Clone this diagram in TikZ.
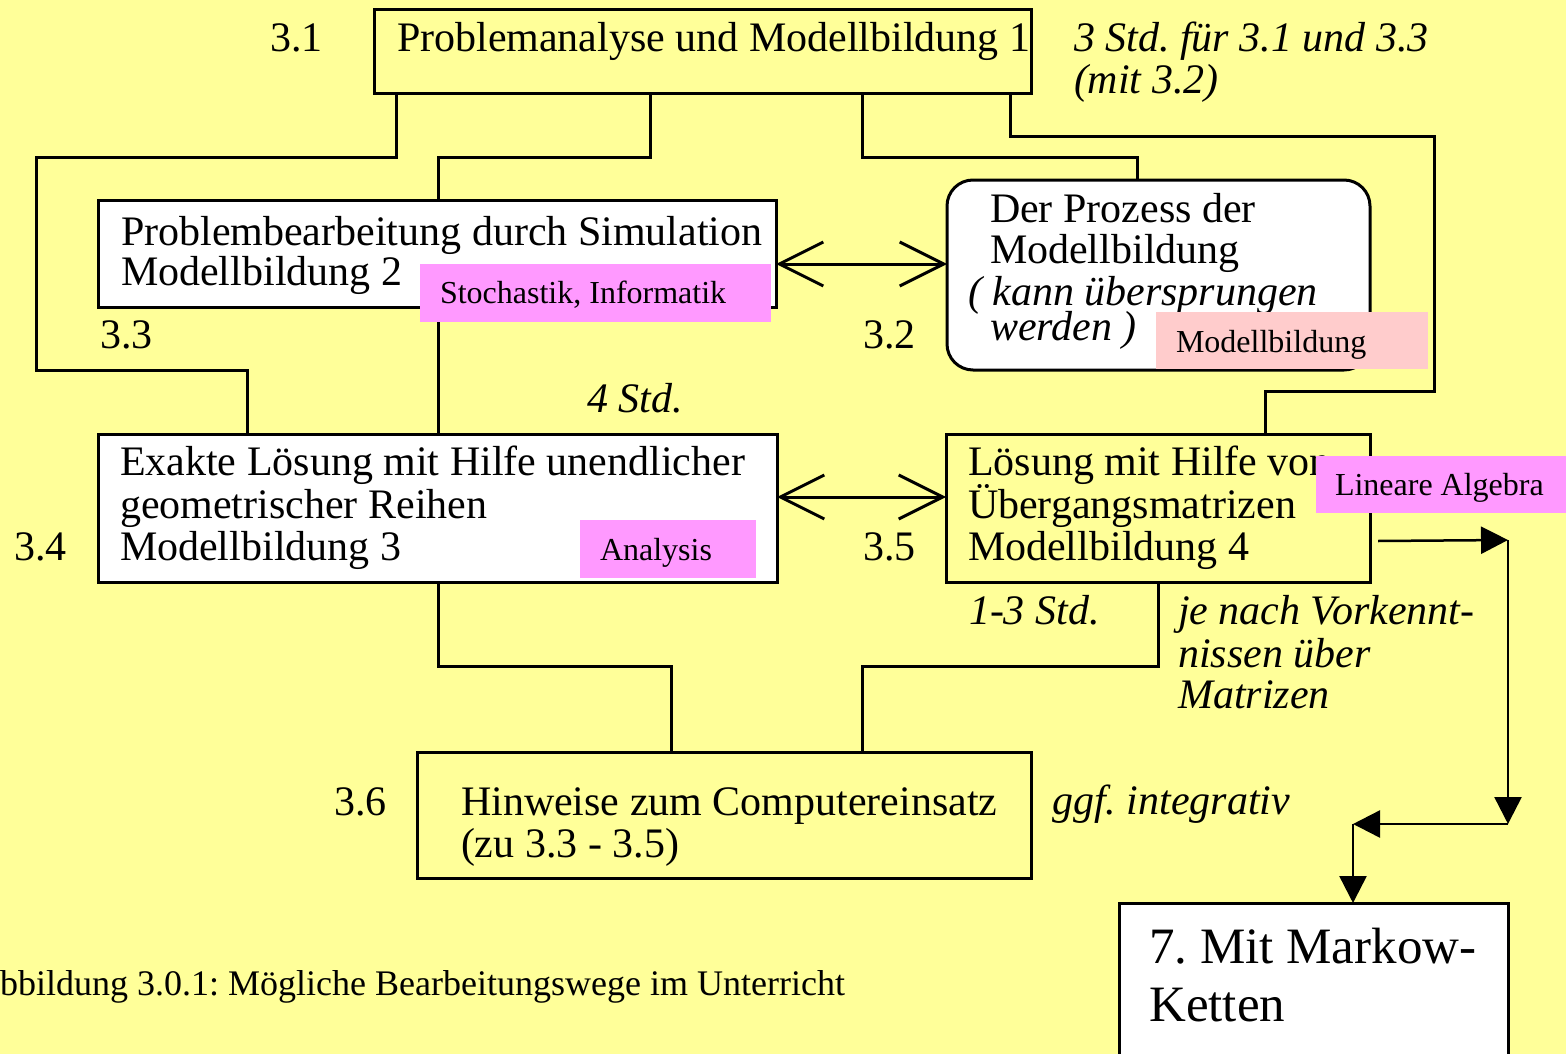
\documentclass[tikz,border=0pt]{standalone}
\usepackage{fontspec}
\setmainfont{Liberation Serif}
\usetikzlibrary{arrows.meta,calc}
\definecolor{paper}{HTML}{FFFF99}
\definecolor{tagpink}{HTML}{FF99FF}
\definecolor{tagrose}{HTML}{FFCCCC}
\frenchspacing

\begin{document}
\begin{tikzpicture}[x=1pt,y=-1pt,
  box/.style={draw=black,line width=3pt,anchor=north west,inner sep=0pt,outer sep=0pt},
  txt/.style={anchor=base west,inner sep=0pt,outer sep=0pt,font=\fontsize{42}{41}\selectfont},
  itxt/.style={anchor=base west,inner sep=0pt,outer sep=0pt,font=\fontsize{42}{41}\selectfont\itshape},
  tag/.style={anchor=north west,inner sep=0pt,outer sep=0pt},
  tagtxt/.style={anchor=base west,inner sep=0pt,outer sep=0pt,font=\fontsize{32}{32}\selectfont},
  conn/.style={line width=3pt},
  dbl/.style={line width=3pt,{Straight Barb[length=44pt,width=44pt]}-{Straight Barb[length=44pt,width=44pt]}},
  flow/.style={line width=2.5pt,-{Triangle[length=27pt,width=27pt]}},
]
% page and background
\useasboundingbox (0,0) rectangle (1566,1054);
\fill[paper] (0,0) rectangle (1566,1054);

% boxes
\node[box,fill=paper,minimum width=657pt,minimum height=84pt] (b31) at (374,10) {};
\node[box,fill=white,minimum width=678pt,minimum height=107pt] (b33) at (98,200) {};
\node[box,fill=white,rounded corners=26pt,minimum width=423pt,minimum height=190pt] (b32) at (947,180) {};
\node[box,fill=white,minimum width=679pt,minimum height=148pt] (b34) at (98,434) {};
\node[box,fill=paper,minimum width=424pt,minimum height=148pt] (b35) at (946,434) {};
\node[box,fill=paper,minimum width=614pt,minimum height=126pt] (b36) at (417,752) {};
\node[box,fill=white,minimum width=389pt,minimum height=180pt] (b7) at (1119,903) {};

% connectors
\draw[conn] ($(b31.south west)+(22,0)$) |- (36,158) -- (36,370) -| ($(b34.north west)+(149,0)$);
\draw[conn] ($(b31.south west)+(276,0)$) |- (438,158) -- ($(b33.north west)+(340,0)$);
\draw[conn] ($(b33.south west)+(340,0)$) -- ($(b34.north west)+(340,0)$);
\draw[conn] ($(b31.south west)+(488,0)$) |- (1137,158) -- ($(b32.north west)+(190,0)$);
\draw[conn] ($(b31.south west)+(636,0)$) |- (1434,137) -- (1434,391) -| ($(b35.north west)+(319,0)$);
\draw[conn] ($(b34.south west)+(340,0)$) |- (671,666) -- ($(b36.north west)+(254,0)$);
\draw[conn] ($(b35.south west)+(212,0)$) |- (862,666) -- ($(b36.north west)+(445,0)$);

% two-way arrows
\draw[dbl] ($(b33.north east)+(0,64)$) -- ($(b32.north west)+(0,84)$);
\draw[dbl] ($(b34.north east)+(0,63)$) -- ($(b35.north west)+(0,63)$);

% route to chapter 7
\coordinate (k1) at (1508,540);
\coordinate (k2) at (1508,824);
\coordinate (k3) at (1353,824);
\draw[flow] ($(b35.south east)+(8,-41)$) -- (k1);
\draw[flow] (k1) -- (k2);
\draw[flow] (k2) -- (k3);
\draw[flow] (k3) -- ($(b7.north west)+(234,0)$);

% section numbers
\node[txt] (n31) at (270,52) {3.1};
\node[txt] (n33) at (100,348) {3.3};
\node[txt] (n32) at (863,348) {3.2};
\node[txt] (n34) at (14,560) {3.4};
\node[txt] (n35) at (863,560) {3.5};
\node[txt] (n36) at (334,815) {3.6};

% box texts
\node[txt] (t31) at (397,52) {Problemanalyse und Modellbildung 1};
\node[txt] (t33a) at (121,245) {Problembearbeitung durch Simulation};
\node[txt] (t33b) at (121,285) {Modellbildung 2};
\node[txt] (t32a) at (990,222) {Der Prozess der};
\node[txt] (t32b) at (990,263) {Modellbildung};
\node[itxt] (t32c) at (968,305) {( kann übersprungen};
\node[itxt] (t32d) at (990,340) {werden )};
\node[txt] (t34a) at (120,475) {Exakte Lösung mit Hilfe unendlicher};
\node[txt] (t34b) at (120,518) {geometrischer Reihen};
\node[txt] (t34c) at (120,560) {Modellbildung 3};
\node[txt] (t35a) at (968,475) {Lösung mit Hilfe von};
\node[txt] (t35b) at (968,518) {Übergangsmatrizen};
\node[txt] (t35c) at (968,560) {Modellbildung 4};
\node[txt] (t36a) at (461,815) {Hinweise zum Computereinsatz};
\node[txt] (t36b) at (461,857) {(zu 3.3 - 3.5)};
\node[anchor=base west,inner sep=0pt,font=\fontsize{51}{58}\selectfont] (t7a) at (1149,963) {7. Mit Markow-};
\node[anchor=base west,inner sep=0pt,font=\fontsize{51}{58}\selectfont] (t7b) at (1149,1021) {Ketten};

% time notes
\node[itxt] (s1) at (1074,52) {3 Std. für 3.1 und 3.3};
\node[itxt] (s2) at (1074,94) {(mit 3.2)};
\node[itxt] (s3) at (587,412) {4 Std.};
\node[itxt] (s4) at (969,624) {1-3 Std.};
\node[itxt] (s5) at (1178,624) {je nach Vorkennt-};
\node[itxt] (s6) at (1178,667) {nissen über};
\node[itxt] (s7) at (1178,708) {Matrizen};
\node[itxt] (s8) at (1052,814) {ggf. integrativ};

% subject tags
\node[tag,fill=tagpink,minimum width=351pt,minimum height=58pt] (g33) at (420,264) {};
\node[tagtxt] (g33t) at (440,303) {Stochastik, Informatik};
\node[tag,fill=tagrose,minimum width=272pt,minimum height=57pt] (g32) at (1156,312) {};
\node[tagtxt] (g32t) at (1176,352) {Modellbildung};
\node[tag,fill=tagpink,minimum width=176pt,minimum height=58pt] (g34) at (580,520) {};
\node[tagtxt] (g34t) at (600,560) {Analysis};
\node[tag,fill=tagpink,minimum width=250pt,minimum height=57pt] (g35) at (1316,456) {};
\node[tagtxt] (g35t) at (1335,495) {Lineare Algebra};

% caption
\node[anchor=base west,inner sep=0pt,font=\fontsize{36}{36}\selectfont] (cap) at (-26,995) {Abbildung 3.0.1: Mögliche Bearbeitungswege im Unterricht};
\end{tikzpicture}
\end{document}
